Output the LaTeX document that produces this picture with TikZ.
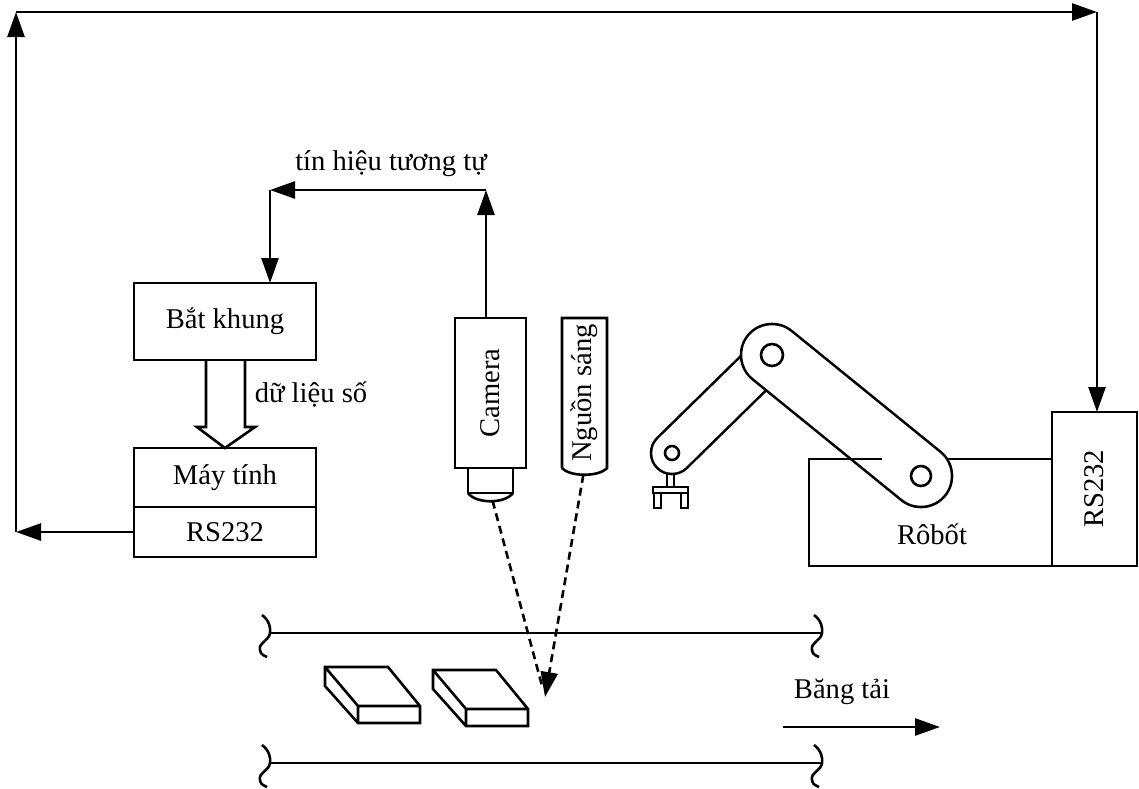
\documentclass[tikz,border=0pt]{standalone}
\usepackage{fontspec}
\setmainfont{Liberation Serif}
\usetikzlibrary{arrows.meta,positioning}

\begin{document}
\begin{tikzpicture}[
    x=0.5pt, y=-0.5pt,
    line width=1.3pt,
    font=\fontsize{14.3}{17}\selectfont,
    box/.style={rectangle, draw, inner sep=0pt, outer sep=0pt, align=center},
    arrow/.style={-{Triangle[length=12.5pt,width=8.5pt]}},
    beam/.style={dash pattern=on 4pt off 2.5pt}
]
\useasboundingbox (0,0) rectangle (1139,788);

% Nodes
\node[box, minimum width=91pt, minimum height=38.5pt] (grab) at (225,321.5) {Bắt khung};
\node[box, minimum width=91pt, minimum height=29.5pt] (pc) at (225,477.5) {Máy tính};
\node[box, minimum width=91pt, minimum height=25pt, below=0pt of pc] (pcport) {RS232};

\node[box, minimum width=35.5pt, minimum height=75pt] (camera) at (490.5,393) {};
\node[rotate=90] at (camera.center) {Camera};
\node[box, minimum width=22.5pt, minimum height=12.5pt, below=0pt of camera] (lens) {};
\draw (lens.south west) .. controls +(8,11) and +(-8,11) .. (lens.south east);

\node[minimum width=22.5pt, minimum height=75pt, inner sep=0pt, outer sep=0pt] (light) at (584.5,393) {};
\node[rotate=90] at (light.center) {Nguồn sáng};
\draw (light.south west) -- (light.north west) -- (light.north east) -- (light.south east)
    .. controls +(-8,9) and +(8,9) .. (light.south west);

\node[box, minimum width=42.5pt, minimum height=77pt] (rport) at (1094.5,489) {};
\node[rotate=90] at (rport.center) {RS232};
\node[minimum width=121.5pt, minimum height=53.5pt, inner sep=0pt, outer sep=0pt] (robot) at (930.5,512.5) {};
\node at (932,534) {Rôbốt};

% Coordinates for the free ends
\coordinate (sigr) at (486,190);
\coordinate (sigl) at (270,190);
\coordinate (lt) at (16,12);
\coordinate (rt) at (1097,12);
\coordinate (spot) at (545,697);
\coordinate (beltA) at (783,727);
\coordinate (beltB) at (940,727);
\coordinate (wrist) at (672,453);
\coordinate (elbow) at (772,355);
\coordinate (shoulder) at (921,476);

% Arrows - signal path
\draw[arrow] (sigr |- camera.north) -- (sigr);
\draw[arrow] (sigr) -- (sigl);
\draw[arrow] (sigl) -- (sigl |- grab.north);
\node at (391,164) {tín hiệu tương tự};

\draw (206,360) -- (206,427) -- (197,427) -- (pc.north) -- (255,427) -- (245,427) -- (245,360);
\node at (311,395) {dữ liệu số};

% Serial link
\draw[arrow] (pcport.west) -- (pcport.west -| lt);
\draw[arrow] (pcport.west -| lt) -- (lt);
\draw[arrow] (lt) -- (rt);
\draw[arrow] (rt) -- (rt |- rport.north);

% Robot base and arm
\draw (robot.north west) -- (robot.south west) -- (robot.south east) -- (robot.north east) -- cycle;
\draw[line cap=round, line width=22.3pt] (wrist) -- (elbow);
\draw[line cap=round, line width=19.7pt, white] (wrist) -- (elbow);
\draw[line cap=round, line width=32.3pt] (elbow) -- (shoulder);
\draw[line cap=round, line width=29.7pt, white] (elbow) -- (shoulder);
\draw (robot.north west) -- ++(73,0);
\draw (wrist) circle[radius=3.5pt];
\draw (elbow) circle[radius=5.5pt];
\draw (shoulder) circle[radius=5pt];

% Gripper
\draw (667,474) rectangle (674,487);
\draw (653,487) rectangle (688,493);
\draw (654,493) rectangle (661,508);
\draw (681,493) rectangle (688,508);

% Light and view beams
\draw[beam, shorten <=4pt, shorten >=5pt] (lens.south) -- (spot);
\draw[beam, arrow, shorten <=3.5pt] (light.south) -- (spot);

% Conveyor
\foreach \y in {633,763} {
    \draw (270,\y) -- (822,\y);
    \foreach \x in {270,822}
        \draw (\x-8,\y-18) .. controls (\x-1,\y-13) and (\x+1,\y-5) .. (\x,\y)
            .. controls (\x-1,\y+8) and (\x-12,\y+10) .. (\x-10,\y+17)
            .. controls (\x-9,\y+21) .. (\x-3,\y+24);
}

% Parts on the belt
\foreach \dx/\dy in {0/0,108/3}
    \draw[shift={(\dx,\dy)}] (325,667) -- (388,667) -- (420,706) -- (420,723) -- (358,723)
        -- (325,686) -- cycle (325,667) -- (358,706) -- (420,706) (358,706) -- (358,723);

\draw[arrow] (beltA) -- (beltB);
\node at (842,692) {Băng tải};

\end{tikzpicture}
\end{document}
